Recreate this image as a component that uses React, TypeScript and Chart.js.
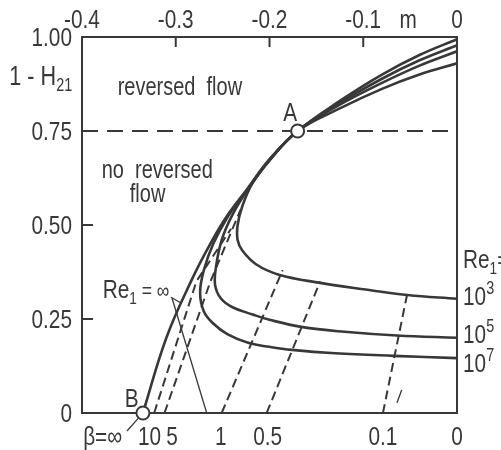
import React, { useEffect, useRef } from "react";
import { Chart, registerables } from "chart.js";

Chart.register(...registerables);

const INK = "#383838";
const FONT = '"Liberation Sans", Arial, sans-serif';
const SX = 0.8; // horizontal condensing of the lettering

// Axis ticks
const mTicks = [-0.4, -0.3, -0.2, -0.1, 0];
const mTickLabels = ["-0.4", "-0.3", "-0.2", "-0.1", "0"];
const hTicks = [0, 0.25, 0.5, 0.75, 1];
const hTickLabels = ["0", "0.25", "0.50", "0.75", "1.00"];

// Re1 = infinity
const reInfM = [0, -0.04, -0.08, -0.125, -0.17, -0.2, -0.224, -0.245, -0.262, -0.283, -0.31, -0.335];
const reInfH = [0.994, 0.952, 0.9, 0.83, 0.75, 0.675, 0.595, 0.525, 0.455, 0.354, 0.2, 0];

// Re1 = 10^7
const re7M = [0, -0.04, -0.08, -0.125, -0.17, -0.2, -0.224, -0.245, -0.26, -0.27, -0.274, -0.27, -0.26, -0.245, -0.222, -0.2, -0.176, -0.13, -0.068, 0];
const re7H = [0.978, 0.938, 0.889, 0.825, 0.75, 0.673, 0.593, 0.52, 0.45, 0.38, 0.32, 0.27, 0.238, 0.21, 0.186, 0.176, 0.168, 0.159, 0.152, 0.146];

// Re1 = 10^5
const re5M = [0, -0.04, -0.08, -0.125, -0.17, -0.2, -0.223, -0.24, -0.251, -0.257, -0.258, -0.252, -0.24, -0.218, -0.2, -0.166, -0.12, -0.064, 0];
const re5H = [0.962, 0.924, 0.878, 0.82, 0.75, 0.672, 0.595, 0.525, 0.46, 0.39, 0.34, 0.305, 0.282, 0.262, 0.248, 0.229, 0.216, 0.206, 0.2];

// Re1 = 10^3
const re3M = [0, -0.04, -0.08, -0.125, -0.17, -0.2, -0.218, -0.229, -0.234, -0.234, -0.229, -0.214, -0.19, -0.146, -0.1, -0.053, 0];
const re3H = [0.93, 0.9, 0.862, 0.81, 0.75, 0.672, 0.612, 0.55, 0.5, 0.46, 0.432, 0.395, 0.368, 0.346, 0.329, 0.314, 0.304];

// lines of constant beta (dashed)
const beta10M = [-0.323, -0.278, -0.241];
const beta10H = [0, 0.35, 0.49];
const beta5M = [-0.312, -0.263, -0.231];
const beta5H = [0, 0.35, 0.54];
const beta1M = [-0.251, -0.186];
const beta1H = [0, 0.38];
const beta05M = [-0.203, -0.146];
const beta05H = [0, 0.35];
const beta01M = [-0.079, -0.053];
const beta01H = [0, 0.318];
const smallMarkM = [-0.064, -0.059];
const smallMarkH = [0.027, 0.061];

// separation limit
const limitM = [-0.4, 0];
const limitH = [0.75, 0.75];

// leader lines for the "Re1 = ∞" label
const leader1M = [-0.305, -0.294];
const leader1H = [0.308, 0.292];
const leader2M = [-0.304, -0.267];
const leader2H = [0.306, 0];

// points
const pointA = { m: -0.17, h: 0.75 };
const pointB = { m: -0.335, h: 0 };

// beta labels along the bottom
const betaLabels = ["β=∞", "10", "5", "1", "0.5", "0.1", "0"];
const betaLabelM = [-0.378, -0.328, -0.304, -0.252, -0.202, -0.079, 0];

const xy = (ms: number[], hs: number[]) => ms.map((m, i) => ({ x: m, y: hs[i] }));

type Part = { t: string; s?: number; dy?: number };

function rich(ctx: CanvasRenderingContext2D, parts: Part[], x: number, y: number, align: "left" | "center" | "right") {
  let w = 0;
  for (const p of parts) {
    ctx.font = `${p.s ?? 25}px ${FONT}`;
    w += ctx.measureText(p.t).width;
  }
  ctx.save();
  ctx.translate(x, y);
  ctx.scale(SX, 1);
  let cx = align === "center" ? -w / 2 : align === "right" ? -w : 0;
  ctx.textAlign = "left";
  ctx.textBaseline = "alphabetic";
  for (const p of parts) {
    ctx.font = `${p.s ?? 25}px ${FONT}`;
    ctx.fillText(p.t, cx, p.dy ?? 0);
    cx += ctx.measureText(p.t).width;
  }
  ctx.restore();
}

const decor = {
  id: "decor",
  beforeDraw(chart: any) {
    const { ctx, width, height } = chart;
    ctx.save();
    ctx.fillStyle = "#ffffff";
    ctx.fillRect(0, 0, width, height);
    ctx.restore();
  },
  beforeDatasetsDraw(chart: any) {
    const { ctx, chartArea: a, scales } = chart;
    const X = (v: number) => scales.x.getPixelForValue(v);
    const Y = (v: number) => scales.y.getPixelForValue(v);
    ctx.save();
    ctx.strokeStyle = INK;
    ctx.lineWidth = 2;
    ctx.strokeRect(a.left, a.top, a.right - a.left, a.bottom - a.top);
    ctx.beginPath();
    for (const v of [-0.3, -0.2, -0.1]) {
      ctx.moveTo(X(v), a.top);
      ctx.lineTo(X(v), a.top + 10);
    }
    for (const v of [0.25, 0.5]) {
      ctx.moveTo(a.left, Y(v));
      ctx.lineTo(a.left + 11, Y(v));
    }
    ctx.stroke();
    ctx.fillStyle = INK;
    scales.x.ticks.forEach((t: any, i: number) => {
      rich(ctx, [{ t: mTickLabels[i], s: 26 }], X(t.value), a.top - 9, "center");
    });
    scales.y.ticks.forEach((t: any, i: number) => {
      rich(ctx, [{ t: hTickLabels[i], s: 26 }], a.left - 10, Y(t.value) + 9, "right");
    });
    ctx.restore();
  },
  afterDatasetsDraw(chart: any) {
    const { ctx, scales } = chart;
    const X = (v: number) => scales.x.getPixelForValue(v);
    const Y = (v: number) => scales.y.getPixelForValue(v);
    ctx.save();
    ctx.fillStyle = INK;
    ctx.strokeStyle = INK;
    // leader from B to beta label
    ctx.lineWidth = 1.3;
    ctx.beginPath();
    const bx = X(pointB.m), by = Y(pointB.h);
    const ex = X(-0.352), ey = Y(-0.048);
    const ang = Math.atan2(ey - by, ex - bx);
    ctx.moveTo(bx + 6.5 * Math.cos(ang), by + 6.5 * Math.sin(ang));
    ctx.lineTo(ex, ey);
    ctx.stroke();

    rich(ctx, [{ t: "reversed  flow" }], X(-0.362), Y(0.846), "left");
    rich(ctx, [{ t: "no  reversed" }], X(-0.379), Y(0.625), "left");
    rich(ctx, [{ t: "flow" }], X(-0.349), Y(0.561), "left");
    rich(ctx, [{ t: "A", s: 26 }], X(-0.178), Y(0.777), "center");
    rich(ctx, [{ t: "B", s: 26 }], X(-0.347), Y(0.016), "center");
    rich(ctx, [{ t: "Re", s: 26 }, { t: "1", s: 17, dy: 6 }, { t: " = ∞", s: 22 }], X(-0.378), Y(0.306), "left");
    rich(ctx, [{ t: "Re", s: 26 }, { t: "1", s: 17, dy: 6 }, { t: "=", s: 24 }], X(0.0064), Y(0.386), "left");
    rich(ctx, [{ t: "10", s: 26 }, { t: "3", s: 18, dy: -11 }], X(0.0064), Y(0.287), "left");
    rich(ctx, [{ t: "10", s: 26 }, { t: "5", s: 18, dy: -11 }], X(0.0064), Y(0.186), "left");
    rich(ctx, [{ t: "10", s: 26 }, { t: "7", s: 18, dy: -11 }], X(0.0064), Y(0.109), "left");
    rich(ctx, [{ t: "1 - H", s: 27 }, { t: "21", s: 18, dy: 6 }], X(-0.4775), Y(0.872), "left");
    rich(ctx, [{ t: "m", s: 26 }], X(-0.052), Y(1.024), "center");
    betaLabels.forEach((t, i) => {
      rich(ctx, [{ t, s: 26 }], X(betaLabelM[i]), Y(-0.085), "center");
    });
    ctx.restore();
  },
};

export default function App() {
  const ref = useRef<HTMLCanvasElement | null>(null);
  useEffect(() => {
    if (!ref.current) return;
    const curve = (ms: number[], hs: number[]) => ({
      data: xy(ms, hs),
      showLine: true,
      borderColor: INK,
      borderWidth: 2.6,
      pointRadius: 0,
      tension: 0.4,
      fill: false,
      order: 2,
    });
    const dashed = (ms: number[], hs: number[], dash: number[]) => ({
      data: xy(ms, hs),
      showLine: true,
      borderColor: INK,
      borderWidth: 2,
      borderDash: dash,
      pointRadius: 0,
      tension: 0,
      fill: false,
      order: 3,
    });
    const thin = (ms: number[], hs: number[]) => ({
      data: xy(ms, hs),
      showLine: true,
      borderColor: INK,
      borderWidth: 1.3,
      pointRadius: 0,
      tension: 0,
      fill: false,
      order: 3,
    });
    const chart = new Chart(ref.current, {
      type: "scatter",
      data: {
        datasets: [
          {
            data: [{ x: pointA.m, y: pointA.h }, { x: pointB.m, y: pointB.h }],
            showLine: false,
            pointRadius: 6.5,
            pointBackgroundColor: "#ffffff",
            pointBorderColor: INK,
            pointBorderWidth: 2,
            order: 0,
            clip: false as any,
          },
          curve(reInfM, reInfH),
          curve(re7M, re7H),
          curve(re5M, re5H),
          curve(re3M, re3H),
          dashed(limitM, limitH, [16, 9]),
          dashed(beta10M, beta10H, [9, 5]),
          dashed(beta5M, beta5H, [9, 5]),
          dashed(beta1M, beta1H, [9, 5]),
          dashed(beta05M, beta05H, [9, 5]),
          dashed(beta01M, beta01H, [9, 5]),
          thin(smallMarkM, smallMarkH),
          thin(leader1M, leader1H),
          thin(leader2M, leader2H),
        ] as any,
      },
      options: {
        animation: false,
        responsive: false,
        devicePixelRatio: 1,
        events: [],
        layout: { padding: { left: 0, top: 0, right: 44, bottom: 37 } },
        plugins: { legend: { display: false }, tooltip: { enabled: false } },
        scales: {
          x: {
            type: "linear",
            position: "top",
            min: -0.4,
            max: 0,
            grid: { display: false, drawTicks: false },
            border: { display: false },
            afterBuildTicks: (s: any) => {
              s.ticks = mTicks.map((v) => ({ value: v }));
            },
            afterFit: (s: any) => {
              s.height = 37;
            },
            ticks: { display: false, autoSkip: false },
          },
          y: {
            type: "linear",
            min: 0,
            max: 1,
            grid: { display: false, drawTicks: false },
            border: { display: false },
            afterBuildTicks: (s: any) => {
              s.ticks = hTicks.map((v) => ({ value: v }));
            },
            afterFit: (s: any) => {
              s.width = 82;
            },
            ticks: { display: false, autoSkip: false },
          },
        },
      } as any,
      plugins: [decor],
    });
    return () => chart.destroy();
  }, []);
  return (
    <div style={{ position: "absolute", left: 0, top: 0, width: 501, height: 450, background: "#fff" }}>
      <canvas ref={ref} width={501} height={450} style={{ display: "block" }} />
    </div>
  );
}
